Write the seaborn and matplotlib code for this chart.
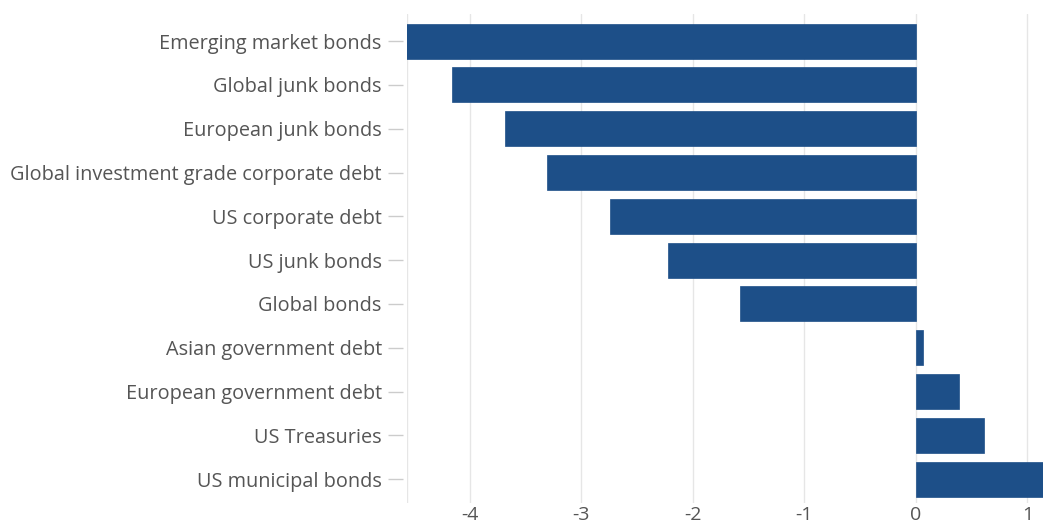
import matplotlib
matplotlib.use("Agg")
import matplotlib.pyplot as plt
import seaborn as sns
import pandas as pd

categories = ["Emerging market bonds", "Global junk bonds", "European junk bonds",
              "Global investment grade corporate debt", "US corporate debt",
              "US junk bonds", "Global bonds", "Asian government debt",
              "European government debt", "US Treasuries", "US municipal bonds"]
values = [-4.6, -4.16, -3.68, -3.31, -2.74, -2.22, -1.58, 0.06, 0.39, 0.61, 1.25]
x_ticks = [-4, -3, -2, -1, 0, 1]

df = pd.DataFrame({"category": categories, "value": values})

sns.set_theme(style="white")
plt.rcParams['font.family'] = ['Open Sans', 'DejaVu Sans']

fig = plt.figure(figsize=(10.43, 5.28), dpi=100)
ax = fig.add_axes([0.390, 0.047, 0.610, 0.9265])

bar_color = "#1d4f88"
sns.barplot(data=df, x="value", y="category", orient="h", color=bar_color,
            width=0.8, saturation=1, ax=ax, zorder=3, edgecolor=bar_color, linewidth=0.5)

ax.set_xlim(-4.565, 1.14)
ax.set_ylim(10.55, -0.62)
ax.set_xticks(x_ticks)
ax.set_xticklabels([str(t) for t in x_ticks])
ax.set_xlabel("")
ax.set_ylabel("")

ax.grid(axis="x", color="#e6e6e6", linewidth=1, zorder=0)
ax.grid(axis="y", visible=False)
ax.axvline(ax.get_xlim()[0], color="#e6e6e6", linewidth=1, zorder=0)

for s in ["top", "right", "bottom"]:
    ax.spines[s].set_visible(False)
ax.spines["left"].set_position(("outward", 3))
ax.spines["left"].set_visible(False)

ax.tick_params(axis="y", length=11, width=1, color="#cccccc", pad=4,
               labelsize=14.3, labelcolor="#555555", left=True)
ax.tick_params(axis="x", length=0, pad=2, labelsize=14, labelcolor="#555555")

fig.savefig("out.png", dpi=100)
